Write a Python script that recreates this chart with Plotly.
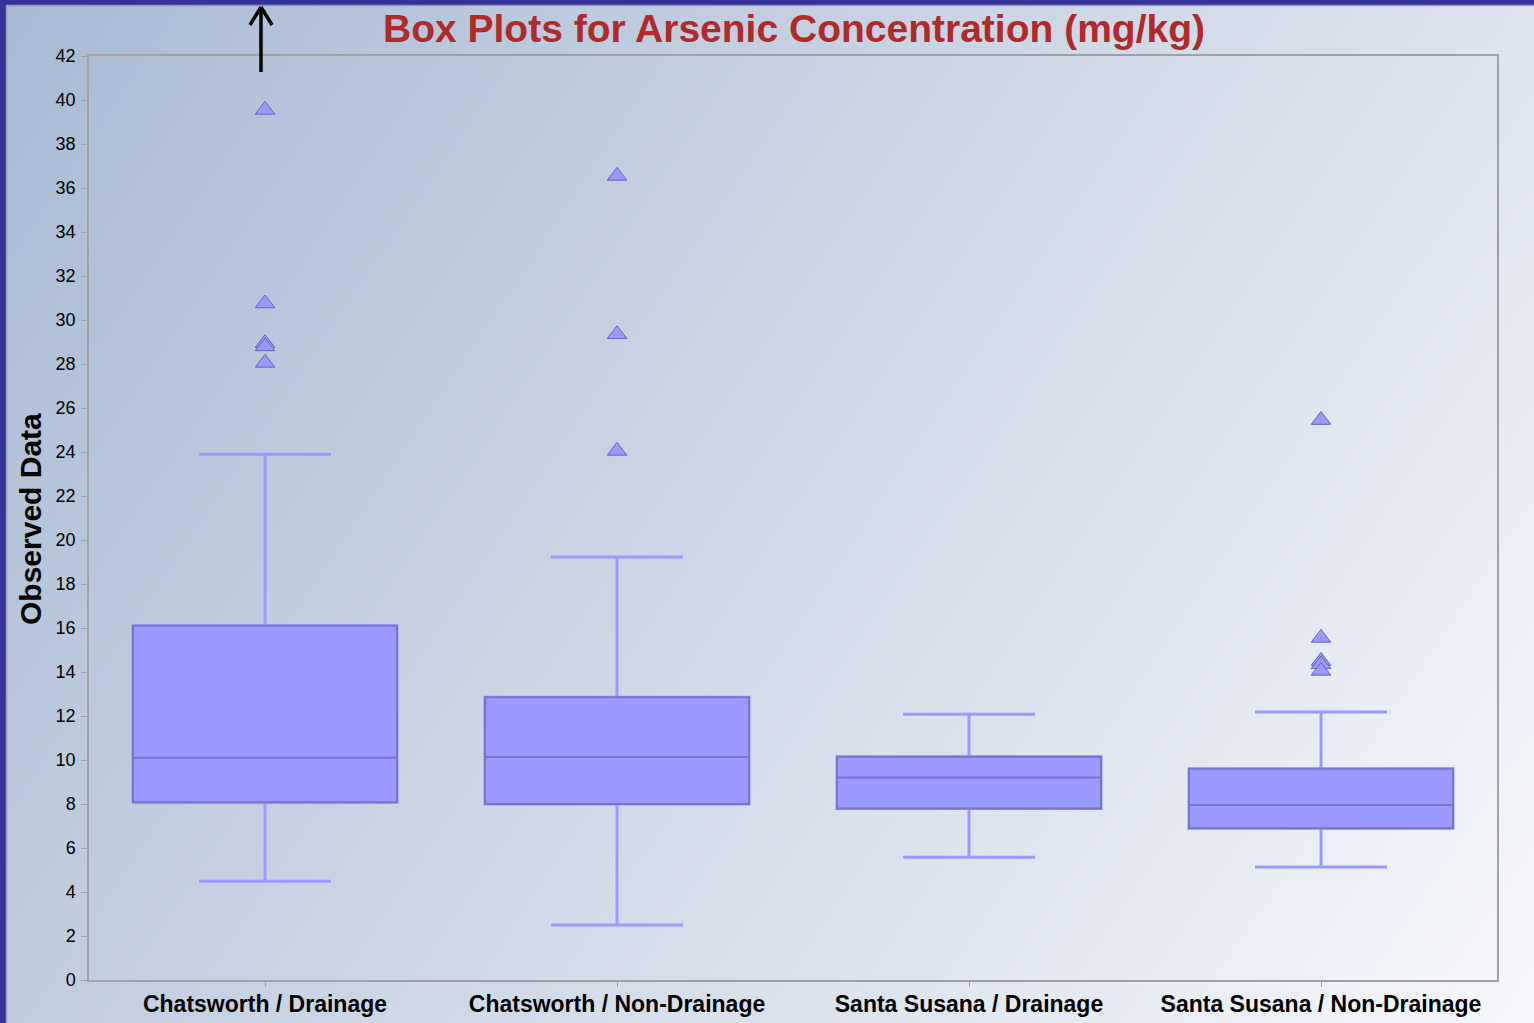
import base64
import plotly.graph_objects as go

# Arsenic concentration (mg/kg) summary statistics per site / area
categories = ["Chatsworth / Drainage", "Chatsworth / Non-Drainage",
              "Santa Susana / Drainage", "Santa Susana / Non-Drainage"]
lower_whisker = [4.49, 2.5, 5.58, 5.14]
q1 = [8.08, 8.0, 7.8, 6.9]
median = [10.1, 10.14, 9.2, 7.95]
q3 = [16.1, 12.85, 10.15, 9.6]
upper_whisker = [23.9, 19.23, 12.08, 12.18]

# Observations beyond the whiskers
outlier_cat = ["Chatsworth / Drainage"] * 5 + ["Chatsworth / Non-Drainage"] * 3 \
    + ["Santa Susana / Non-Drainage"] * 5
outlier_val = [39.55, 30.75, 28.95, 28.8, 28.05,
               36.55, 29.35, 24.05,
               25.45, 15.55, 14.5, 14.35, 14.05]

# Figure / plot-area geometry (pixels)
W, H = 1534, 1023
ML, MR, MT, MB = 89, 37, 56, 43
PW, PH = W - ML - MR, H - MT - MB


def px(x):
    return (x - ML) / PW


def py(y):
    return (H - MB - y) / PH


FONT = "Liberation Sans, Arial, Helvetica, sans-serif"
BOX_FILL = "#9999ff"
BOX_EDGE = "#7676c8"

fig = go.Figure()

# Whiskers (light, thicker) drawn with the full box statistics
fig.add_trace(go.Box(
    x=categories, q1=q1, median=median, q3=q3,
    lowerfence=lower_whisker, upperfence=upper_whisker,
    width=0.75, whiskerwidth=0.5,
    fillcolor=BOX_FILL, line=dict(color=BOX_FILL, width=3),
    boxpoints=False, showlegend=False, hoverinfo="skip",
))
# Box body with a darker outline and median line
fig.add_trace(go.Box(
    x=categories, q1=q1, median=median, q3=q3,
    lowerfence=q1, upperfence=q3,
    width=0.75, whiskerwidth=0,
    fillcolor=BOX_FILL, line=dict(color=BOX_EDGE, width=2),
    boxpoints=False, showlegend=False, hoverinfo="skip",
))
# Outliers
fig.add_trace(go.Scatter(
    x=outlier_cat, y=outlier_val, mode="markers",
    marker=dict(symbol="triangle-up", size=17, color=BOX_FILL,
                line=dict(color="#6464b4", width=1)),
    showlegend=False, hoverinfo="skip", cliponaxis=False,
))

# Diagonal gradient backdrop over the whole figure
svg = (
    f'<svg xmlns="http://www.w3.org/2000/svg" width="{W}" height="{H}" '
    f'viewBox="0 0 {W} {H}" preserveAspectRatio="none">'
    f'<defs><linearGradient id="g" gradientUnits="userSpaceOnUse" '
    f'x1="0" y1="0" x2="{W}" y2="{H}">'
    f'<stop offset="0" stop-color="#a7bad3"/>'
    f'<stop offset="1" stop-color="#f6f7fb"/>'
    f'</linearGradient></defs>'
    f'<rect width="{W}" height="{H}" fill="url(#g)"/></svg>'
)
bg_uri = "data:image/svg+xml;base64," + base64.b64encode(svg.encode()).decode()

shapes = [
    # window frame: dark blue strips on the left and top, grey inner line
    dict(type="rect", xref="paper", yref="paper", x0=px(0), x1=px(6),
         y0=py(H), y1=py(0), fillcolor="#333399", line=dict(width=0), layer="above"),
    dict(type="rect", xref="paper", yref="paper", x0=px(0), x1=px(W),
         y0=py(5), y1=py(0), fillcolor="#333399", line=dict(width=0), layer="above"),
    dict(type="line", xref="paper", yref="paper", x0=px(6), x1=px(W),
         y0=py(5.5), y1=py(5.5), line=dict(color="#9c9cae", width=1.5)),
    dict(type="line", xref="paper", yref="paper", x0=px(6.5), x1=px(6.5),
         y0=py(H), y1=py(5.5), line=dict(color="#9c9cae", width=1.5)),
    # off-scale indicator above Chatsworth / Drainage
    dict(type="line", xref="paper", yref="paper", x0=px(261), x1=px(261),
         y0=py(72), y1=py(7), line=dict(color="black", width=3.5)),
    dict(type="line", xref="paper", yref="paper", x0=px(250), x1=px(261),
         y0=py(25), y1=py(7), line=dict(color="black", width=3.5)),
    dict(type="line", xref="paper", yref="paper", x0=px(272), x1=px(261),
         y0=py(25), y1=py(7), line=dict(color="black", width=3.5)),
]

fig.update_layout(
    width=W, height=H,
    margin=dict(l=ML, r=MR, t=MT, b=MB, pad=0, autoexpand=False),
    paper_bgcolor="#cdd8e6",
    plot_bgcolor="rgba(0,0,0,0)",
    boxmode="overlay",
    font=dict(family=FONT, color="black"),
    title=dict(
        text="<b>Box Plots for Arsenic Concentration (mg/kg)</b>",
        font=dict(family=FONT, size=39, color="#b02a2a"),
        x=px(794), xref="paper", xanchor="center",
        y=1 - 28 / H, yref="container", yanchor="middle",
    ),
    images=[dict(source=bg_uri, xref="paper", yref="paper",
                 x=px(0), y=py(0), sizex=W / PW, sizey=H / PH,
                 xanchor="left", yanchor="top", sizing="stretch",
                 layer="below")],
    shapes=shapes,
    annotations=[dict(
        text="<b>Observed Data</b>", xref="paper", yref="paper",
        x=px(30), y=py(519), xanchor="center", yanchor="middle",
        textangle=-90, showarrow=False,
        font=dict(family=FONT, size=30, color="black"),
    )],
)

fig.update_xaxes(
    type="category", categoryorder="array", categoryarray=categories,
    range=[-0.5, 3.5], automargin=False,
    showline=True, mirror=True, linecolor="#a0a0a8", linewidth=1.5,
    ticks="outside", ticklen=5, tickcolor="#a0a0a8", tickwidth=1,
    showgrid=False, zeroline=False,
    tickfont=dict(family=FONT, size=23, color="black"),
    ticktext=[f"<b>{c}</b>" for c in categories], tickvals=categories,
    ticklabelstandoff=-2,
)
fig.update_yaxes(
    range=[0, 42], dtick=2, tick0=0, automargin=False,
    showline=True, mirror=True, linecolor="#a0a0a8", linewidth=1.5,
    ticks="outside", ticklen=6, tickcolor="#a0a0a8", tickwidth=1,
    showgrid=False, zeroline=False,
    tickfont=dict(family=FONT, size=18, color="black"),
    ticklabelstandoff=2,
)

fig.write_html("out.html")
